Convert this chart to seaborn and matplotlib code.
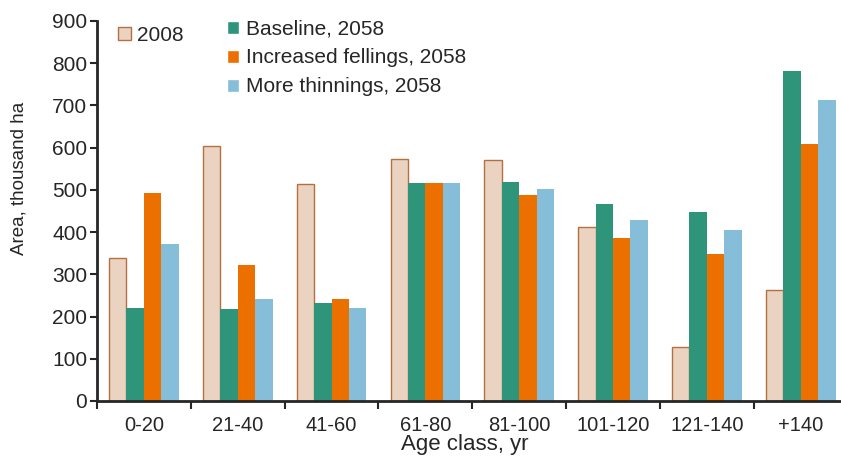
import pandas as pd
import seaborn as sns
import matplotlib.pyplot as plt
from matplotlib.patches import Patch

# Area by age class (thousand ha)
age_classes = ["0-20", "21-40", "41-60", "61-80", "81-100", "101-120", "121-140", "+140"]
area_2008 = [339, 605, 513, 573, 570, 413, 128, 263]
baseline_2058 = [221, 219, 231, 516, 518, 467, 448, 781]
increased_2058 = [492, 323, 242, 516, 487, 387, 349, 609]
thinnings_2058 = [371, 242, 221, 516, 502, 428, 406, 713]

series = ["2008", "Baseline, 2058", "Increased fellings, 2058", "More thinnings, 2058"]
colors = ["#ebd3c2", "#2e957a", "#ec7000", "#86bdd8"]
edge_2008 = "#b5703f"


def build_frame():
    rows = []
    for name, vals in zip(series, [area_2008, baseline_2058, increased_2058, thinnings_2058]):
        for cls, v in zip(age_classes, vals):
            rows.append({"Age class": cls, "Scenario": name, "Area": v})
    return pd.DataFrame(rows)


def plot_chart():
    data = build_frame()
    sns.set_style("ticks")
    plt.rcParams["font.family"] = ["Liberation Sans", "DejaVu Sans"]

    fig = plt.figure(figsize=(8.41, 4.62), dpi=100)
    ax = fig.add_axes([97 / 841, 1 - 401 / 462, 750.6 / 841, 380 / 462])
    sns.barplot(
        data=data,
        x="Age class",
        y="Area",
        hue="Scenario",
        hue_order=series,
        order=age_classes,
        palette=dict(zip(series, colors)),
        saturation=1,
        width=0.743,
        errorbar=None,
        linewidth=0,
        legend=False,
        ax=ax,
    )
    # Brown outline on the 2008 bars
    for bar in ax.containers[0]:
        bar.set_edgecolor(edge_2008)
        bar.set_linewidth(1.0)

    ax.set_xlim(-0.5, len(age_classes) - 0.5)
    ax.set_ylim(0, 900)
    ax.set_yticks(range(0, 901, 100))
    ax.tick_params(axis="y", labelsize=15, length=5, width=1.5, pad=2)
    ax.set_xticks(range(len(age_classes)))
    ax.set_xticklabels(age_classes)
    ax.tick_params(axis="x", which="major", length=0, labelsize=14.5, pad=11)
    ax.set_xticks([i - 0.5 for i in range(len(age_classes) + 1)], minor=True)
    ax.tick_params(axis="x", which="minor", length=6, width=1.5)

    for side in ["top", "right"]:
        ax.spines[side].set_visible(False)
    ax.spines["left"].set_linewidth(2)
    ax.spines["bottom"].set_linewidth(2)

    ax.set_xlabel("Age class, yr", fontsize=16)
    ax.xaxis.set_label_coords(0.49, -0.088)
    ax.set_ylabel("Area, thousand ha", fontsize=13.5)
    ax.yaxis.set_label_coords(-0.093, 0.587)

    common = dict(
        loc="upper left",
        frameon=False,
        fontsize=15,
        handlelength=0.6,
        handleheight=0.6,
        handletextpad=0.3,
        borderpad=0,
        borderaxespad=0,
        labelspacing=0.48,
    )
    first = ax.legend(
        [Patch(facecolor=colors[0], edgecolor=edge_2008, linewidth=1)],
        [series[0]],
        bbox_to_anchor=(0.028, 0.987),
        **common,
    )
    ax.add_artist(first)
    ax.legend(
        [Patch(facecolor=c) for c in colors[1:]],
        series[1:],
        bbox_to_anchor=(0.173, 1.004),
        **common,
    )

    fig.savefig("out.png", dpi=100)


plot_chart()
